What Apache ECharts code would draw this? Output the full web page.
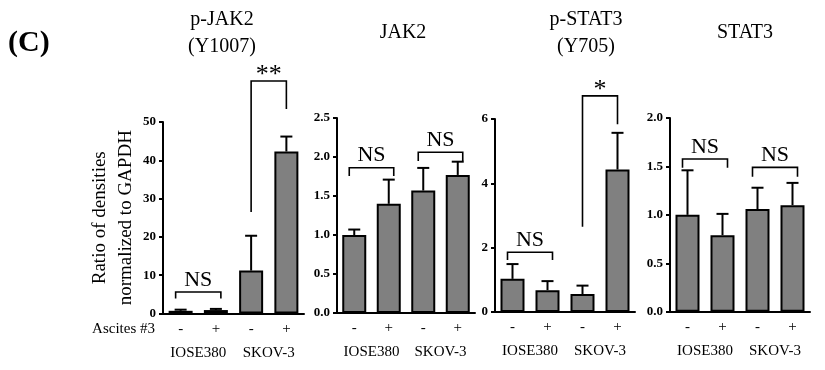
<!DOCTYPE html>
<html>
<head>
<meta charset="utf-8">
<script src="https://cdn.jsdelivr.net/npm/echarts@6/dist/echarts.min.js"></script>
<style>
  html, body { margin: 0; padding: 0; background: #fff; }
  #chart { width: 825px; height: 370px; }
</style>
</head>
<body>
<div id="chart"></div>
<script>
// ---------- data ----------
const categories = ['-', '+', '-', '+'];
const groups = ['IOSE380', 'SKOV-3'];
const panelTitles = ['p-JAK2\n(Y1007)', 'JAK2', 'p-STAT3\n(Y705)', 'STAT3'];
const yAxisName = 'Ratio of densities\nnormalized to GAPDH';
const treatmentLabel = 'Ascites #3';
const panelLabel = '(C)';

const pJak2 = [0.7, 0.9, 11.2, 42.3];
const pJak2Err = [1.0, 1.2, 20.3, 46.2];
const jak2 = [1.0, 1.40, 1.57, 1.77];
const jak2Err = [1.07, 1.71, 1.86, 1.94];
const pStat3 = [1.03, 0.68, 0.56, 4.43];
const pStat3Err = [1.49, 0.96, 0.82, 5.57];
const stat3 = [1.0, 0.79, 1.06, 1.10];
const stat3Err = [1.46, 1.01, 1.28, 1.33];

const yMax = [50, 2.5, 6, 2.0];
const yInterval = [10, 0.5, 2, 0.5];
const yDecimals = [0, 1, 0, 1];

// brackets: [fromCategory, toCategory, topValue, leftEndValue, rightEndValue]
const brackets1 = [[0, 1, 5.6, 3.9, 3.9], [2, 3, 60.7, 26.5, 53.4]];
const brackets1Labels = ['NS', '**'];
const brackets2 = [[0, 1, 1.863, 1.756, 1.756], [2, 3, 2.06, 1.95, 1.95]];
const brackets2Labels = ['NS', 'NS'];
const brackets3 = [[0, 1, 1.856, 1.62, 1.62], [2, 3, 6.72, 2.65, 5.84]];
const brackets3Labels = ['NS', '*'];
const brackets4 = [[0, 1, 1.577, 1.487, 1.487], [2, 3, 1.49, 1.394, 1.394]];
const brackets4Labels = ['NS', 'NS'];

// ---------- layout / style ----------
const FONT = "'Liberation Serif', 'Times New Roman', serif";
const panels = [
  { vals: pJak2, errs: pJak2Err, br: brackets1, brL: brackets1Labels, grid: { left: 163, top: 122, width: 141, height: 191.5 }, titleX: 222 },
  { vals: jak2, errs: jak2Err, br: brackets2, brL: brackets2Labels, grid: { left: 337, top: 118, width: 138, height: 195 }, titleX: 403 },
  { vals: pStat3, errs: pStat3Err, br: brackets3, brL: brackets3Labels, grid: { left: 495, top: 119, width: 140, height: 193 }, titleX: 586 },
  { vals: stat3, errs: stat3Err, br: brackets4, brL: brackets4Labels, grid: { left: 670, top: 118, width: 140, height: 193.7 }, titleX: 745 }
];

const grids = [], xAxes = [], yAxes = [], series = [], titles = [];

panels.forEach((p, i) => {
  grids.push(Object.assign({}, p.grid));
  const twoLine = panelTitles[i].indexOf('\n') >= 0;
  titles.push({
    text: panelTitles[i],
    left: p.titleX,
    top: twoLine ? 6 : 19,
    textAlign: 'center',
    padding: 0,
    textStyle: { fontFamily: FONT, fontSize: 20, fontWeight: 'normal', color: '#000', lineHeight: 27 }
  });
  xAxes.push({
    type: 'category', gridIndex: i, data: categories, position: 'bottom',
    axisLine: { lineStyle: { color: '#000', width: 2 } },
    axisTick: { show: false },
    axisLabel: { fontFamily: FONT, fontSize: 15, color: '#000', margin: 8, interval: 0 }
  });
  xAxes.push({
    type: 'category', gridIndex: i, data: groups, position: 'bottom',
    axisLine: { show: false }, axisTick: { show: false },
    axisLabel: { fontFamily: FONT, fontSize: 15, color: '#000', margin: 32, interval: 0, hideOverlap: false }
  });
  const dec = yDecimals[i];
  yAxes.push({
    type: 'value', gridIndex: i, min: 0, max: yMax[i], interval: yInterval[i],
    splitLine: { show: false },
    axisLine: { show: true, lineStyle: { color: '#000', width: 2 } },
    axisTick: { show: true, length: 4, lineStyle: { color: '#000', width: 2 } },
    axisLabel: { fontFamily: FONT, fontSize: 13, fontWeight: 'bold', color: '#000', margin: 7,
      formatter: v => v.toFixed(dec) },
    name: i === 0 ? yAxisName : '',
    nameLocation: 'middle', nameRotate: 90, nameGap: 22,
    nameTextStyle: { fontFamily: FONT, fontSize: 19, lineHeight: 26, color: '#000' }
  });
  series.push({
    type: 'bar', xAxisIndex: i * 2, yAxisIndex: i, data: p.vals,
    barWidth: 24, silent: true,
    itemStyle: { color: '#808080', borderColor: '#000', borderWidth: 2 },
    z: 2
  });
  series.push({
    type: 'custom', xAxisIndex: i * 2, yAxisIndex: i, clip: false, silent: true, z: 3,
    data: p.vals.map((v, j) => [j, v, p.errs[j]]),
    encode: { x: 0, y: [1, 2] },
    renderItem: (params, api) => {
      const x = api.value(0);
      const p0 = api.coord([x, api.value(1)]);
      const p1 = api.coord([x, api.value(2)]);
      const st = { stroke: '#000', lineWidth: 2 };
      return { type: 'group', children: [
        { type: 'line', shape: { x1: p0[0], y1: p0[1], x2: p1[0], y2: p1[1] }, style: st },
        { type: 'line', shape: { x1: p1[0] - 6, y1: p1[1], x2: p1[0] + 6, y2: p1[1] }, style: st }
      ] };
    }
  });
  series.push({
    type: 'custom', xAxisIndex: i * 2, yAxisIndex: i, clip: false, silent: true, z: 4,
    data: p.br,
    encode: { x: [0, 1], y: [2, 3, 4] },
    renderItem: (params, api) => {
      const label = p.brL[params.dataIndex];
      const isNS = label === 'NS';
      const ext = isNS ? 5 : 0;
      const a = api.coord([api.value(0), api.value(2)]);
      const b = api.coord([api.value(1), api.value(2)]);
      const la = api.coord([api.value(0), api.value(3)]);
      const rb = api.coord([api.value(1), api.value(4)]);
      const x1 = a[0] - ext, x2 = b[0] + ext, yt = a[1];
      return { type: 'group', children: [
        { type: 'polyline', shape: { points: [[x1, la[1]], [x1, yt], [x2, yt], [x2, rb[1]]] },
          style: { stroke: '#000', lineWidth: 1.6, fill: null } },
        { type: 'text', style: {
            text: label, x: (x1 + x2) / 2, y: yt - (isNS ? 12 : 6),
            textAlign: 'center', textVerticalAlign: 'middle',
            fontFamily: FONT, fontSize: isNS ? 22 : 26, fill: '#000' } }
      ] };
    }
  });
});

const chart = echarts.init(document.getElementById('chart'), null, { renderer: 'canvas' });
chart.setOption({
  animation: false,
  backgroundColor: '#fff',
  title: titles,
  grid: grids,
  xAxis: xAxes,
  yAxis: yAxes,
  series: series,
  graphic: [
    { type: 'text', left: 8, top: 28, style: { text: panelLabel, fontFamily: FONT, fontSize: 30, fontWeight: 'bold', fill: '#000' } },
    { type: 'text', x: 155, y: 329, style: { text: treatmentLabel, fontFamily: FONT, fontSize: 15, fill: '#000', textAlign: 'right', textVerticalAlign: 'middle' } }
  ]
});
</script>
</body>
</html>
